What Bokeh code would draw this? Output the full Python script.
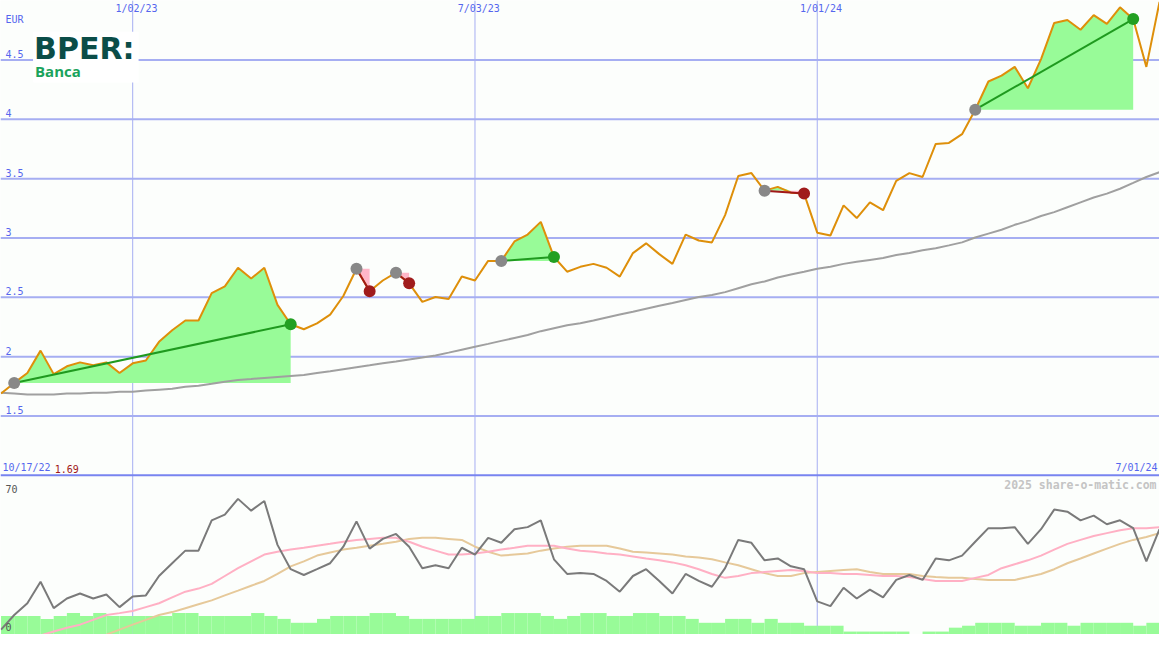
import datetime as dt
from bokeh.plotting import figure
from bokeh.models import Range1d, Span, Label, ColumnDataSource, Grid
from bokeh.embed import file_html
from bokeh.resources import INLINE

# ---------------- data (weekly) ----------------
price = [
    1.689, 1.779, 1.862, 2.051, 1.853, 1.919, 1.952, 1.927, 1.952, 1.862,
    1.944, 1.968, 2.125, 2.223, 2.305, 2.305, 2.536, 2.593, 2.749, 2.659,
    2.749, 2.437, 2.273, 2.231, 2.281, 2.355, 2.511, 2.741, 2.552, 2.642,
    2.708, 2.618, 2.462, 2.503, 2.486, 2.675, 2.642, 2.807, 2.807, 2.971,
    3.029, 3.136, 2.840, 2.716, 2.757, 2.782, 2.749, 2.675, 2.873, 2.955,
    2.864, 2.782, 3.029, 2.979, 2.963, 3.193, 3.522, 3.547, 3.399, 3.431,
    3.382, 3.374, 3.045, 3.021, 3.275, 3.168, 3.300, 3.234, 3.481, 3.547,
    3.514, 3.793, 3.801, 3.875, 4.081, 4.319, 4.368, 4.442, 4.262, 4.508,
    4.812, 4.837, 4.755, 4.878, 4.804, 4.944, 4.845, 4.442, 4.990,
]
ma_long = [
    1.697, 1.689, 1.681, 1.681, 1.681, 1.689, 1.689, 1.697, 1.697, 1.705,
    1.705, 1.714, 1.722, 1.730, 1.747, 1.755, 1.771, 1.788, 1.804, 1.812,
    1.821, 1.829, 1.837, 1.845, 1.862, 1.878, 1.895, 1.911, 1.927, 1.944,
    1.960, 1.977, 1.993, 2.010, 2.034, 2.059, 2.084, 2.108, 2.133, 2.158,
    2.182, 2.215, 2.240, 2.264, 2.281, 2.305, 2.330, 2.355, 2.379, 2.404,
    2.429, 2.453, 2.478, 2.503, 2.519, 2.544, 2.577, 2.610, 2.634, 2.667,
    2.692, 2.716, 2.741, 2.757, 2.782, 2.799, 2.815, 2.831, 2.856, 2.873,
    2.897, 2.914, 2.938, 2.963, 3.004, 3.037, 3.070, 3.111, 3.144, 3.185,
    3.218, 3.259, 3.300, 3.341, 3.374, 3.415, 3.464, 3.514, 3.555,
]
osc = [
    0.0, 7.1, 12.8, 23.2, 10.4, 15.1, 17.5, 15.1, 17.0, 10.9,
    16.1, 16.6, 26.0, 32.2, 38.3, 38.3, 53.0, 55.8, 63.4, 57.7,
    62.4, 41.1, 29.3, 26.5, 29.3, 32.2, 40.2, 52.5, 39.3, 44.0,
    46.4, 40.2, 29.8, 31.2, 29.8, 39.7, 36.4, 44.5, 42.1, 48.7,
    49.7, 53.0, 34.1, 27.0, 27.4, 27.0, 23.6, 18.4, 26.0, 29.3,
    23.6, 17.5, 27.0, 23.6, 20.8, 29.8, 43.5, 42.1, 33.6, 34.5,
    30.7, 29.3, 13.7, 11.4, 20.3, 15.1, 19.4, 15.6, 24.1, 26.5,
    24.1, 34.5, 33.6, 35.9, 42.6, 49.2, 49.2, 49.7, 41.6, 48.7,
    58.2, 57.2, 53.0, 55.3, 51.1, 53.0, 49.2, 33.1, 48.7,
]
nan = float("nan")
osc_fast = [
    nan, nan, nan, -2.8, -0.9, 0.9, 2.4, 4.7, 7.1, 8.0,
    9.0, 10.9, 12.8, 15.6, 18.4, 19.9, 22.2, 26.0, 29.8, 33.1,
    36.4, 37.8, 38.8, 39.7, 40.7, 41.6, 42.6, 43.5, 44.0, 44.5,
    44.5, 42.6, 40.2, 38.3, 36.4, 36.4, 36.9, 37.8, 38.8, 39.7,
    40.7, 40.7, 40.7, 39.3, 38.3, 37.8, 36.9, 36.4, 35.5, 34.5,
    33.6, 32.6, 31.2, 29.3, 27.0, 25.1, 26.0, 27.4, 27.9, 28.4,
    28.9, 28.4, 27.4, 27.4, 27.0, 27.0, 26.5, 26.0, 26.0, 25.5,
    24.6, 23.6, 23.6, 23.6, 25.1, 26.5, 29.8, 31.7, 33.6, 35.9,
    38.8, 41.6, 43.5, 45.4, 46.8, 48.2, 49.2, 49.2, 49.7,
]
osc_slow = [
    nan, nan, nan, nan, nan, nan, nan, nan, -2.4, 0.0,
    2.4, 4.7, 7.1, 8.5, 10.4, 12.3, 14.2, 16.6, 18.9, 21.3,
    23.6, 27.0, 30.7, 33.1, 35.9, 37.4, 38.8, 39.7, 40.7, 41.6,
    42.6, 44.0, 44.5, 44.5, 44.0, 43.5, 40.2, 37.8, 35.9, 36.4,
    36.9, 38.3, 39.3, 40.2, 40.7, 40.7, 40.7, 39.3, 37.8, 37.4,
    36.9, 36.4, 35.5, 35.0, 34.1, 32.6, 31.2, 29.3, 27.4, 26.0,
    26.0, 27.4, 27.9, 28.4, 28.9, 29.3, 27.9, 27.0, 27.0, 27.0,
    26.0, 25.5, 25.1, 25.1, 24.6, 24.1, 24.1, 24.1, 25.5, 27.0,
    29.3, 32.2, 34.5, 36.9, 39.3, 41.6, 43.5, 44.9, 46.8,
]
volume = [
    19, 19, 19, 16, 19, 22, 19, 22, 19, 19,
    19, 19, 19, 22, 22, 19, 19, 19, 19, 22,
    19, 16, 12, 12, 16, 19, 19, 19, 22, 22,
    19, 16, 16, 16, 16, 16, 19, 19, 22, 22,
    22, 19, 16, 19, 22, 22, 19, 19, 22, 22,
    19, 19, 16, 12, 12, 16, 16, 12, 16, 12,
    12, 9, 9, 9, 3, 3, 3, 3, 3, 0,
    3, 3, 7, 9, 12, 12, 12, 9, 9, 12,
    12, 9, 12, 12, 12, 12, 9, 12,
]
trade_entry = [1, 27, 30, 38, 58, 74]
trade_exit = [22, 28, 31, 42, 61, 86]

y_levels = [1.5, 2.0, 2.5, 3.0, 3.5, 4.0, 4.5]
y_labels = ["1.5", "2", "2.5", "3", "3.5", "4", "4.5"]
grid_dates = [dt.datetime(2023, 1, 2), dt.datetime(2023, 7, 3), dt.datetime(2024, 1, 1)]
grid_labels = ["1/02/23", "7/03/23", "1/01/24"]

first_date = dt.datetime(2022, 10, 24)
dates = [first_date + dt.timedelta(days=7 * i) for i in range(len(price))]

# ---------------- geometry helpers (reference pixels -> data) ----------------
EPOCH = dt.datetime(1970, 1, 1)


def ms(d):
    return (d - EPOCH).total_seconds() * 1000.0


x_start = dt.datetime(2022, 10, 23, 17, 0)
PX_PER_DAY = 1.9066
x_end = x_start + dt.timedelta(days=1175 / PX_PER_DAY)
PX_PER_EUR = 121.67


def X(px):
    return ms(x_start) + px / PX_PER_DAY * 86400000.0


def Y(py):
    return 1.5 + (426 - py) / PX_PER_EUR


osc_px = 148 / 70.0
osc_start = -(650 - 645) / osc_px
osc_end = 70 + 497 / osc_px

BLUE = "#5566ee"
GRID = "#a6aef2"
BG = "#fcfefc"

p = figure(width=1159, height=634, x_range=Range1d(ms(x_start), ms(x_end)),
           y_range=Range1d(Y(650), Y(0)), x_axis_location=None, y_axis_location=None,
           output_backend="svg", toolbar_location=None, min_border=0)
p.extra_y_ranges = {"osc": Range1d(osc_start, osc_end), "vol": Range1d(0, 650)}
p.outline_line_color = None
p.background_fill_color = BG
p.border_fill_color = BG
# remove default grids
p.center = [c for c in p.center if not isinstance(c, Grid)]

# grid
for v in y_levels:
    p.add_layout(Span(location=v, dimension="width", line_color=GRID, line_width=2, level="underlay"))
for d in grid_dates:
    p.add_layout(Span(location=ms(d), dimension="height", line_color=GRID, line_width=1, level="underlay"))

# logo box
p.quad(left=[X(33)], right=[X(140)], top=[Y(32)], bottom=[Y(84)], fill_color="#ffffff", line_color=None)

# trade fills
for e, x in zip(trade_entry, trade_exit):
    xs = dates[e:x + 1]
    base = price[e]
    seg = price[e:x + 1]
    up = [max(v, base) for v in seg]
    dn = [min(v, base) for v in seg]
    p.varea(x=xs, y1=[base] * len(xs), y2=up, fill_color="#98fb98")
    p.varea(x=xs, y1=dn, y2=[base] * len(xs), fill_color="#ffb6c8")

# volume bars
p.quad(left=dates[:-1], right=dates[1:], bottom=0, top=volume, y_range_name="vol",
       fill_color="#98fb98", line_color=None)

# long moving average and price
p.line(dates, ma_long, line_color="#a0a0a0", line_width=2)
p.line(dates, price, line_color="#de8f0a", line_width=2)

# trades
win = [price[x] >= price[e] for e, x in zip(trade_entry, trade_exit)]
src_t = ColumnDataSource(dict(
    x0=[dates[e] for e in trade_entry], y0=[price[e] for e in trade_entry],
    x1=[dates[x] for x in trade_exit], y1=[price[x] for x in trade_exit],
    lc=["#1f9a1f" if w else "#a01818" for w in win],
    mc=["#22a022" if w else "#a01c1c" for w in win],
))
p.segment(x0="x0", y0="y0", x1="x1", y1="y1", line_color="lc", line_width=2, source=src_t)
p.scatter(x="x0", y="y0", size=12, fill_color="#888888", line_color=None, source=src_t)
p.scatter(x="x1", y="y1", size=12, fill_color="mc", line_color=None, source=src_t)

# oscillator panel
p.line(dates, osc_slow, y_range_name="osc", line_color="#e6c99a", line_width=2)
p.line(dates, osc_fast, y_range_name="osc", line_color="#ffb0c4", line_width=2)
p.line(dates, osc, y_range_name="osc", line_color="#7a7a7a", line_width=2)

# separator between panels
p.add_layout(Span(location=1.0, dimension="width", line_color="#7884f0", line_width=2))

MONO = "DejaVu Sans Mono"


def lab(text, x, y, color=BLUE, align="left", base="bottom", size="10px", font=MONO, style="normal"):
    p.add_layout(Label(x=x, y=y, text=text, text_color=color, text_align=align,
                       text_baseline=base, text_font_size=size, text_font=font,
                       text_font_style=style))


lab("EUR", X(5), Y(25))
for v, t in zip(y_levels, y_labels):
    lab(t, X(5), v + 2 / PX_PER_EUR)
for d, t in zip(grid_dates, grid_labels):
    lab(t, ms(d) + 2 * 86400000, Y(3), align="center", base="top")
lab("10/17/22", X(2), Y(484))
lab("%.2f" % price[0], X(55), Y(484), color="#a01818")
lab("7/01/24", X(1173), Y(484), align="right")
lab("2025 share-o-matic.com", X(1172), Y(490), color="#c4c4c4", align="right", base="top",
    size="11.5px", style="bold")
lab("70", X(5), Y(501), color="#555555", base="middle")
lab("0", X(5), Y(642), color="#555555", base="middle")

# logo
lab("BPER:", X(34), Y(49), color="#0b4d48", base="alphabetic", size="30px", font="DejaVu Sans", style="bold")
lab("Banca", X(35), Y(72), color="#1aa35c", base="alphabetic", size="15px", font="Open Sans", style="bold")

open("out.html", "w").write(file_html(p, INLINE))
